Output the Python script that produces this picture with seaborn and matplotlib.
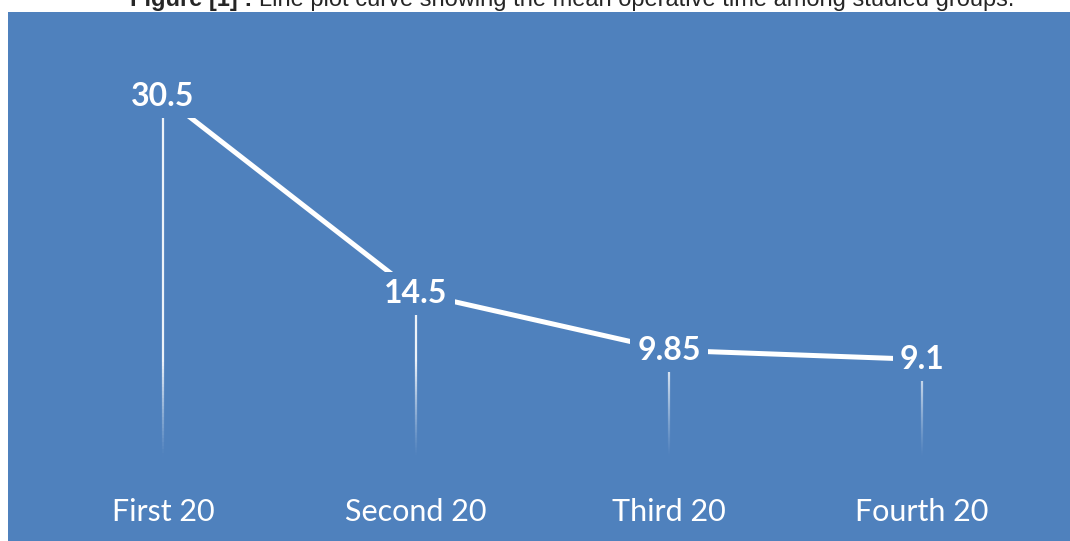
import numpy as np
import matplotlib
matplotlib.use("Agg")
import matplotlib.pyplot as plt
from matplotlib.collections import LineCollection
import seaborn as sns

# data
groups = ["First 20", "Second 20", "Third 20", "Fourth 20"]
mean_time = [30.5, 14.5, 9.85, 9.1]
value_labels = ["30.5", "14.5", "9.85", "9.1"]

BLUE = "#4F81BD"

sns.set_style("white")
plt.rcParams["font.family"] = ["Lato", "DejaVu Sans"]

fig = plt.figure(figsize=(10.7, 5.41), dpi=100)
fig.patch.set_facecolor("white")
ax = fig.add_axes([8 / 1070, 0, 1062 / 1070, 529 / 541])
ax.set_facecolor(BLUE)

# main line
sns.lineplot(x=groups, y=mean_time, ax=ax, color="white", linewidth=3.6,
             sort=False, solid_capstyle="butt")

# fading drop lines under each point
fade_top, fade_bottom = 9.0, 1.2
for i, v in enumerate(mean_time):
    ys = np.linspace(fade_bottom, v, 100)
    segs = [[(i, ys[k]), (i, ys[k + 1])] for k in range(len(ys) - 1)]
    mid = (ys[:-1] + ys[1:]) / 2
    alpha = np.clip((mid - fade_bottom) / (fade_top - fade_bottom), 0, 1) ** 1.2
    cols = [(1, 1, 1, a * 0.9) for a in alpha]
    ax.add_collection(LineCollection(segs, colors=cols, linewidths=1.6, zorder=1))

# value labels, boxed in background colour to cut the lines
for i, (v, lab) in enumerate(zip(mean_time, value_labels)):
    ax.text(i, v, lab, ha="center", va="center", color="white",
            fontsize=23, fontweight="bold", zorder=5,
            bbox=dict(boxstyle="square,pad=0.22", facecolor=BLUE, edgecolor="none"))

# category labels
for i, g in enumerate(groups):
    ax.text(i, -3.3, g, ha="center", va="center", color="white", fontsize=22)

ax.set_xlim(-0.613, 3.585)
ax.set_ylim(-5.66, 37.35)
ax.set_xticks([])
ax.set_yticks([])
for s in ax.spines.values():
    s.set_visible(False)

# caption, cut off by the top edge as in the source image
cap_font = ["Liberation Sans", "DejaVu Sans"]
cap_y = 1 - 6 / 541
t1 = fig.text(130 / 1070, cap_y, "Figure [1] : ", ha="left", va="baseline",
              fontsize=17, fontweight="bold", family=cap_font)
r = fig.canvas.get_renderer()
x1 = t1.get_window_extent(r).x1 / fig.bbox.width
fig.text(x1, cap_y, "Line plot curve showing the mean operative time among studied groups.",
         ha="left", va="baseline", fontsize=17, family=cap_font)

fig.savefig("out.png", dpi=100, facecolor="white")
